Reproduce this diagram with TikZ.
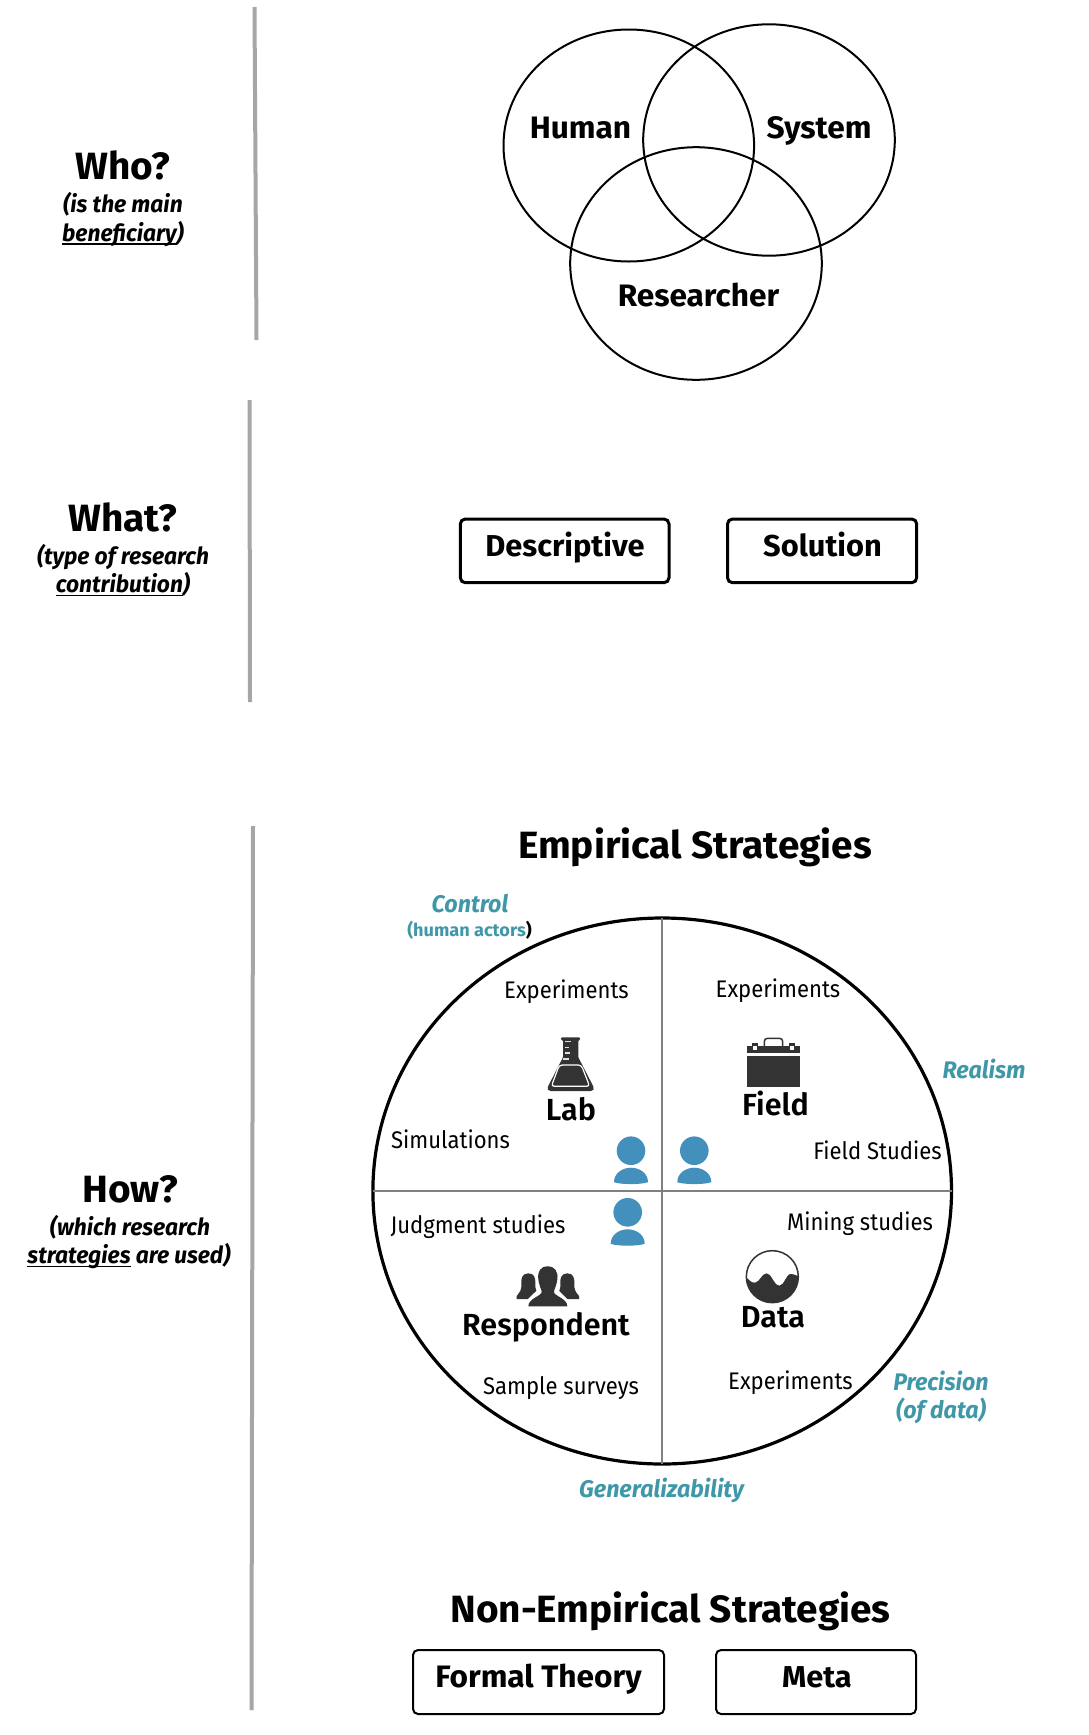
\documentclass[tikz,border=0pt]{standalone}
\usepackage{fontspec}
\setmainfont{Fira Sans}[FakeStretch=0.92,BoldFeatures={FakeStretch=1.02},BoldItalicFeatures={FakeStretch=0.97}]
\newfontfamily\quadfont{Fira Sans SemiBold}[FakeStretch=1.0]
\usetikzlibrary{shapes.geometric}
\definecolor{teal1}{HTML}{3F98A8}
\definecolor{blue1}{HTML}{4390BC}
\definecolor{icon}{HTML}{333333}
\definecolor{bar}{HTML}{A6A6A6}
\definecolor{axis}{HTML}{808080}
\newcommand\myul[1]{\setbox0\hbox{#1}\rlap{\rule[-3.5pt]{\wd0}{1.6pt}}\box0\relax}
\tikzset{
  txt/.style={inner sep=0pt,outer sep=0pt,anchor=base},
  head/.style={txt,font=\fontsize{38}{40}\selectfont\bfseries},
  sub/.style={txt,font=\fontsize{23.5}{26}\selectfont\bfseries\itshape},
  vennlbl/.style={txt,font=\fontsize{31}{33}\selectfont\bfseries},
  boxlbl/.style={txt,font=\fontsize{30.2}{33}\selectfont\bfseries},
  formallbl/.style={txt,font=\fontsize{31}{33}\selectfont\bfseries},
  title/.style={txt,font=\fontsize{38}{40}\selectfont\bfseries},
  quad/.style={txt,font=\fontsize{30.5}{33}\selectfont\quadfont},
  study/.style={txt,font=\fontsize{24}{26}\selectfont},
  axislbl/.style={txt,font=\fontsize{24}{26}\selectfont\bfseries\itshape,text=teal1},
  barline/.style={draw=bar,line width=4pt},
  venn/.style={draw=black,line width=2pt},
  boxtop/.style={draw=black,line width=3pt,rounded corners=5pt},
  boxbot/.style={draw=black,line width=2pt,rounded corners=5pt},
  zoomed/.style={shift={(480,1000)},x=0.33333pt,y=-0.33333pt},
}
\newcommand\personicon[2]{%
  \fill[blue1] (#1,#2) circle (14.3);
  \fill[blue1] ({#1-17},{#2+31.5}) .. controls ({#1-17},{#2+22}) and ({#1-8},{#2+17}) .. (#1,{#2+17})
     .. controls ({#1+8},{#2+17}) and ({#1+17},{#2+22}) .. ({#1+17},{#2+31.5})
     .. controls ({#1+10},{#2+34}) and ({#1-10},{#2+34}) .. cycle;
}
\begin{document}
\begin{tikzpicture}[x=1pt,y=-1pt]
\useasboundingbox (0,0) rectangle (1089,1735);
\fill[white] (0,0) rectangle (1089,1735);
% bars
\draw[barline] (254.5,7) -- (256.5,340);
\draw[barline] (249.5,400) -- (250,702);
\draw[barline] (253,826) -- (251.5,1710);
% left headings
\node[head] (who) at (123,179.3) {Who?};
\node[sub] (who1) at (123,212.7) {(is the main};
\node[sub] (who2) at (123,241) {\myul{beneficiary})};
\node[head] (what) at (123,531) {What?};
\node[sub] (what1) at (123,564.5) {(type of research};
\node[sub] (what2) at (123,592.7) {\myul{contribution})};
\node[head] (how) at (130,1202) {How?};
\node[sub] (how1) at (130,1235.4) {(which research};
\node[sub] (how2) at (129,1263.7) {\myul{strategies} are used)};
% venn
\draw[venn] (628.8,145.5) ellipse [x radius=125.3,y radius=116];
\draw[venn] (769,140) ellipse [x radius=125.8,y radius=115.7];
\draw[venn] (696,263.5) ellipse [x radius=125.8,y radius=116.3];
\node[vennlbl] (human) at (580.5,138.3) {Human};
\node[vennlbl] (system) at (819,138.3) {System};
\node[vennlbl] (researcher) at (698.5,306) {Researcher};
% what boxes
\draw[boxtop] (460.3,519) rectangle (669,582.7);
\draw[boxtop] (727.5,519) rectangle (916.7,582.7);
\node[boxlbl] (descriptive) at (565,556) {Descriptive};
\node[boxlbl] (solution) at (822.5,556) {Solution};
% empirical
\node[title] (emp) at (695,858) {Empirical Strategies};
\draw[black,line width=3.2pt] (662.2,1191) ellipse [x radius=289.3,y radius=273];
\draw[axis,line width=1.7pt] (662.3,918) -- (662.3,1464);
\draw[axis,line width=1.7pt] (373,1191.3) -- (951.5,1191.3);
\node[axislbl] (control) at (470,912.7) {Control};
\node[txt,font=\fontsize{17.8}{20}\selectfont\bfseries,text=teal1] (actors) at (469.5,936) {(human actors\textcolor{black}{)}};
\node[axislbl] (realism) at (984,1078) {Realism};
\node[axislbl] (precision) at (941,1390) {Precision};
\node[axislbl] (ofdata) at (941,1418.5) {(of data)};
\node[axislbl] (general) at (661.5,1497) {Generalizability};
\node[study] (e1) at (566.5,998.3) {Experiments};
\node[study] (e2) at (778,997) {Experiments};
\node[study] (sim) at (450.5,1148.7) {Simulations};
\node[study] (fs) at (877.5,1159) {Field Studies};
\node[study] (js) at (478,1233) {Judgment studies};
\node[study] (ms) at (860,1230) {Mining studies};
\node[study] (ss) at (561,1394) {Sample surveys};
\node[study] (e3) at (790.5,1389) {Experiments};
\node[quad] (lab) at (571,1120.3) {Lab};
\node[quad] (field) at (775.5,1115) {Field};
\node[quad] (respondent) at (546,1335) {Respondent};
\node[quad] (data) at (773,1327) {Data};
% persons
\personicon{631}{1150.7}
\personicon{694.3}{1150.7}
\personicon{627.7}{1212.3}
% icons in zoomed coordinates
\begin{scope}[zoomed]
  % flask
  \fill[icon,rounded corners=1pt] (243,112) -- (300,112) -- (300,120) -- (295,120) -- (295,172)
     [rounded corners=5pt] -- (347,273) -- (197,273)
     [rounded corners=1pt] -- (249,172) -- (249,120) -- (243,120) -- cycle;
  \draw[white,line width=1.2pt,rounded corners=3pt] (238,195) -- (304,195) -- (329,259) -- (214,259) -- cycle;
  \foreach \xa/\xb/\ya in {256/272/125,256/268/142,256/270/159,248/266/177}
    \draw[white!85!icon,line width=1.3pt] (\xa,\ya) -- (\xb,\ya);
  % briefcase
  \draw[icon,line width=1.5pt,rounded corners=3pt] (853,140) -- (853,115) -- (908,115) -- (908,140);
  \fill[icon] (801,137) -- (960,137) -- (960,158) -- (801,158) -- cycle;
  \fill[icon] (801,168) rectangle (960,260);
  \fill[white] (819,137) rectangle (831,150);
  \fill[white] (930,137) rectangle (942,150);
  \fill[icon] (815,130) rectangle (835,137);
  \fill[icon] (926,130) rectangle (946,137);
  % people
  \foreach \cx in {145,262}{
    \fill[icon] (\cx,820) .. controls ({\cx+18},820) and ({\cx+22},835) .. ({\cx+21},850)
      .. controls ({\cx+20},868) and ({\cx+24},875) .. ({\cx+35},888)
      -- ({\cx+35},897) -- ({\cx-35},897) -- ({\cx-35},888)
      .. controls ({\cx-24},875) and ({\cx-20},868) .. ({\cx-21},850)
      .. controls ({\cx-22},835) and ({\cx-18},820) .. (\cx,820) -- cycle;
  }
  \fill[white] (203,800) .. controls (240,800) and (245,850) .. (232,868) -- (270,905) -- (136,905) -- (174,868) .. controls (161,850) and (166,800) .. (203,800) -- cycle;
  \fill[icon] (203,799) .. controls (225,799) and (235,815) .. (232,838)
     .. controls (229,860) and (222,868) .. (222,876)
     .. controls (222,888) and (262,895) .. (262,919)
     -- (145,919) .. controls (145,895) and (185,888) .. (185,876)
     .. controls (185,868) and (178,860) .. (175,838)
     .. controls (172,815) and (181,799) .. (203,799) -- cycle;
  % data
  \begin{scope}
    \clip (877,830) circle (78);
    \fill[icon] (790,825) .. controls (805,835) and (812,850) .. (825,848)
      .. controls (840,846) and (845,820) .. (860,820)
      .. controls (875,820) and (880,855) .. (898,857)
      .. controls (912,858) and (918,822) .. (932,822)
      .. controls (945,822) and (952,830) .. (965,830)
      -- (965,920) -- (790,920) -- cycle;
  \end{scope}
  \draw[icon,line width=1.5pt] (877,830) circle (78);
\end{scope}
% non-empirical
\node[title] (nonemp) at (670.5,1622) {Non-Empirical Strategies};
\draw[boxbot] (413,1650) rectangle (664,1714);
\draw[boxbot] (716,1650) rectangle (916,1714);
\node[formallbl] (formal) at (538.5,1687.5) {Formal Theory};
\node[boxlbl] (meta) at (817,1687.5) {Meta};
\end{tikzpicture}
\end{document}
